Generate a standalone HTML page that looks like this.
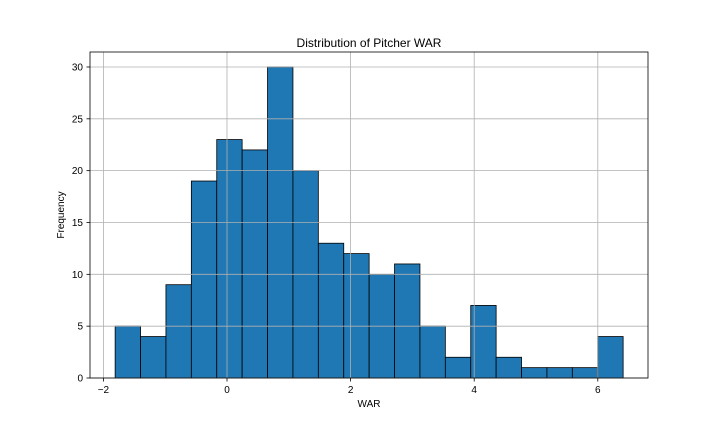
<!DOCTYPE html>
<html><head><meta charset="utf-8"><style>
body{margin:0;background:#fff;}
svg{display:block;font-family:"Liberation Sans","DejaVu Sans",sans-serif;}
</style></head><body>
<svg id="chart" width="720" height="432" viewBox="0 0 720 432">
<rect width="720" height="432" fill="#fff"/>
<text x="369" y="47" text-anchor="middle" font-size="12" fill="#000">Distribution of Pitcher WAR</text>
<g id="bars"></g><g id="grid"></g><g id="ticks"></g>
<rect x="90" y="52" width="558" height="326" fill="none" stroke="#000" stroke-width="0.8"/>
<text x="369" y="407" text-anchor="middle" font-size="10">WAR</text>
<text x="64" y="215" text-anchor="middle" font-size="10" transform="rotate(-90 64 215)">Frequency</text>
</svg>
<script>
const binStart = -1.81;
const binWidth = 0.411;
const counts = [5,4,9,19,23,22,30,20,13,12,10,11,5,2,7,2,1,1,1,4];
const xTicks = [-2,0,2,4,6];
const yTicks = [0,5,10,15,20,25,30];
const NS="http://www.w3.org/2000/svg";
const xs=v=>227+v*61.8;
const ys=v=>378-v*10.367;
const bars=document.getElementById('bars'),grid=document.getElementById('grid'),ticks=document.getElementById('ticks');
function mk(tag,attrs,parent){const e=document.createElementNS(NS,tag);for(const k in attrs)e.setAttribute(k,attrs[k]);parent.appendChild(e);return e;}
counts.forEach((c,i)=>{
  const x0=xs(binStart+i*binWidth),x1=xs(binStart+(i+1)*binWidth);
  const r=mk('rect',{x:x0,y:ys(c),width:x1-x0,height:ys(0)-ys(c),fill:'#1f77b4',stroke:'#000','stroke-width':0.8},bars);
  
  
});
xTicks.forEach(t=>{
  const x=xs(t);
  const g=mk('line',{x1:x,x2:x,y1:52,y2:378,stroke:'#b0b0b0','stroke-width':0.8},grid);
  
  
  mk('line',{x1:x,x2:x,y1:378,y2:381.5,stroke:'#000','stroke-width':0.8},ticks);
  const tx=mk('text',{x:x,y:393,'text-anchor':'middle','font-size':10},ticks);
  tx.textContent=t<0?'\u2212'+(-t):t;
  
  
});
yTicks.forEach(t=>{
  const y=ys(t);
  const g=mk('line',{x1:90,x2:648,y1:y,y2:y,stroke:'#b0b0b0','stroke-width':0.8},grid);
  
  
  mk('line',{x1:86.5,x2:90,y1:y,y2:y,stroke:'#000','stroke-width':0.8},ticks);
  const tx=mk('text',{x:83,y:y+3.5,'text-anchor':'end','font-size':10},ticks);
  tx.textContent=t;
  
  
});
</script>
</body></html>
